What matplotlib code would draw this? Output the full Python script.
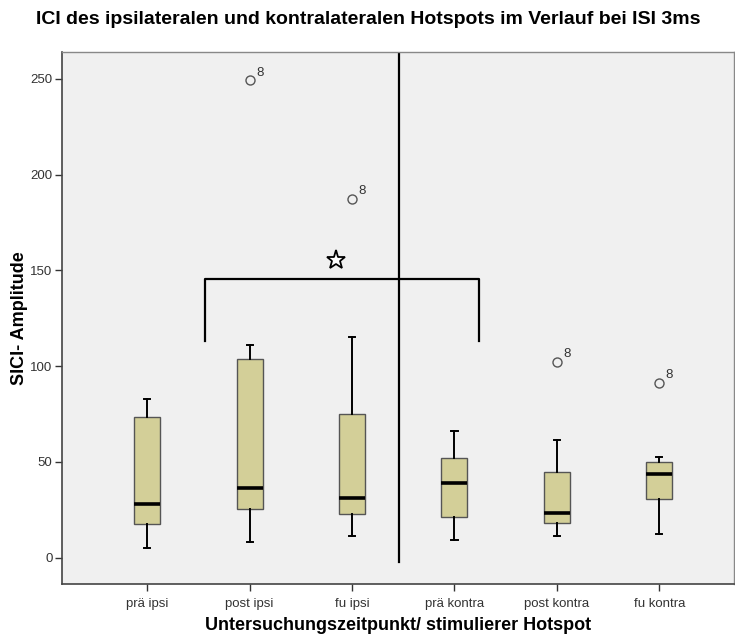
import numpy as np
import matplotlib
matplotlib.use('Agg')
import matplotlib.pyplot as plt

plt.rcParams['font.family'] = ['Liberation Sans', 'DejaVu Sans']

# Werte
labels = ['prä ipsi', 'post ipsi', 'fu ipsi', 'prä kontra', 'post kontra', 'fu kontra']
whislo = [5.2, 8.2, 11.2, 9.2, 11.2, 12.2]
q1 = [17.4, 25.6, 22.8, 21.3, 18.3, 30.7]
med = [28.2, 36.2, 31.2, 39.2, 23.5, 43.5]
q3 = [73.6, 103.6, 75.2, 51.9, 44.9, 50.1]
whishi = [83.0, 111.1, 115.1, 66.2, 61.3, 52.4]
fliers = [[], [249.2], [187.3], [], [102.4], [91.4]]
flier_ids = [[], ['8'], ['8'], [], ['8'], ['8']]

stats = []
for i in range(len(labels)):
    stats.append({'label': labels[i], 'whislo': whislo[i], 'q1': q1[i], 'med': med[i],
                  'q3': q3[i], 'whishi': whishi[i], 'fliers': fliers[i]})

fig = plt.figure(figsize=(7.35, 6.37), dpi=100)
ax = fig.add_axes([62.3 / 735, 1 - 584 / 637, (734 - 62.3) / 735, (584 - 52.3) / 637])
ax.set_facecolor('#f0f0f0')

pos = np.arange(1, len(labels) + 1)
ax.bxp(stats, positions=pos, widths=0.254, patch_artist=True, showcaps=True,
       boxprops=dict(facecolor='#d3cf98', edgecolor='#555555', linewidth=1.0),
       medianprops=dict(color='black', linewidth=2.6),
       whiskerprops=dict(color='black', linewidth=1.4),
       capprops=dict(color='black', linewidth=1.4),
       capwidths=0.06,
       flierprops=dict(marker='o', markerfacecolor='none', markeredgecolor='#555555',
                       markersize=6.5, markeredgewidth=1.0))

for i in range(len(labels)):
    for v, t in zip(fliers[i], flier_ids[i]):
        ax.annotate(t, (pos[i], v), xytext=(4.5, 3.5), textcoords='offset points',
                    fontsize=9.5, color='#333333')

# Trennlinie ipsi / kontra
ax.plot([3.461, 3.461], [-2.1, 270], color='black', linewidth=1.6)

# Signifikanzklammer mit Stern
ax.plot([1.563, 1.563, 4.24, 4.24], [113.2, 145.5, 145.5, 113.2], color='black', linewidth=1.6)
ax.plot([2.843], [155.5], marker='*', markersize=14, markerfacecolor='white',
        markeredgecolor='black', markeredgewidth=1.3)

ax.set_xlim(0.17, 6.73)
ax.set_ylim(-13.7, 263.9)
ax.set_yticks([0, 50, 100, 150, 200, 250])
ax.set_xticks(pos)
ax.set_xticklabels(labels)
ax.tick_params(axis='both', direction='out', length=5, width=1, color='#333333',
               labelsize=9.5, labelcolor='#333333', pad=2)
ax.tick_params(axis='x', pad=5)

for s in ['left', 'bottom']:
    ax.spines[s].set_color('#444444')
    ax.spines[s].set_linewidth(1.2)
for s in ['top', 'right']:
    ax.spines[s].set_color('#888888')
    ax.spines[s].set_linewidth(1.0)

ax.set_xlabel('Untersuchungszeitpunkt/ stimulierer Hotspot', fontsize=13, fontweight='bold', labelpad=5)
ax.set_ylabel('SICI- Amplitude', fontsize=13, fontweight='bold', labelpad=2)
fig.suptitle('ICI des ipsilateralen und kontralateralen Hotspots im Verlauf bei ISI 3ms',
             x=368 / 735, y=1 - 11 / 637, va='top', fontsize=14, fontweight='bold')

fig.savefig('out.png', dpi=100)
